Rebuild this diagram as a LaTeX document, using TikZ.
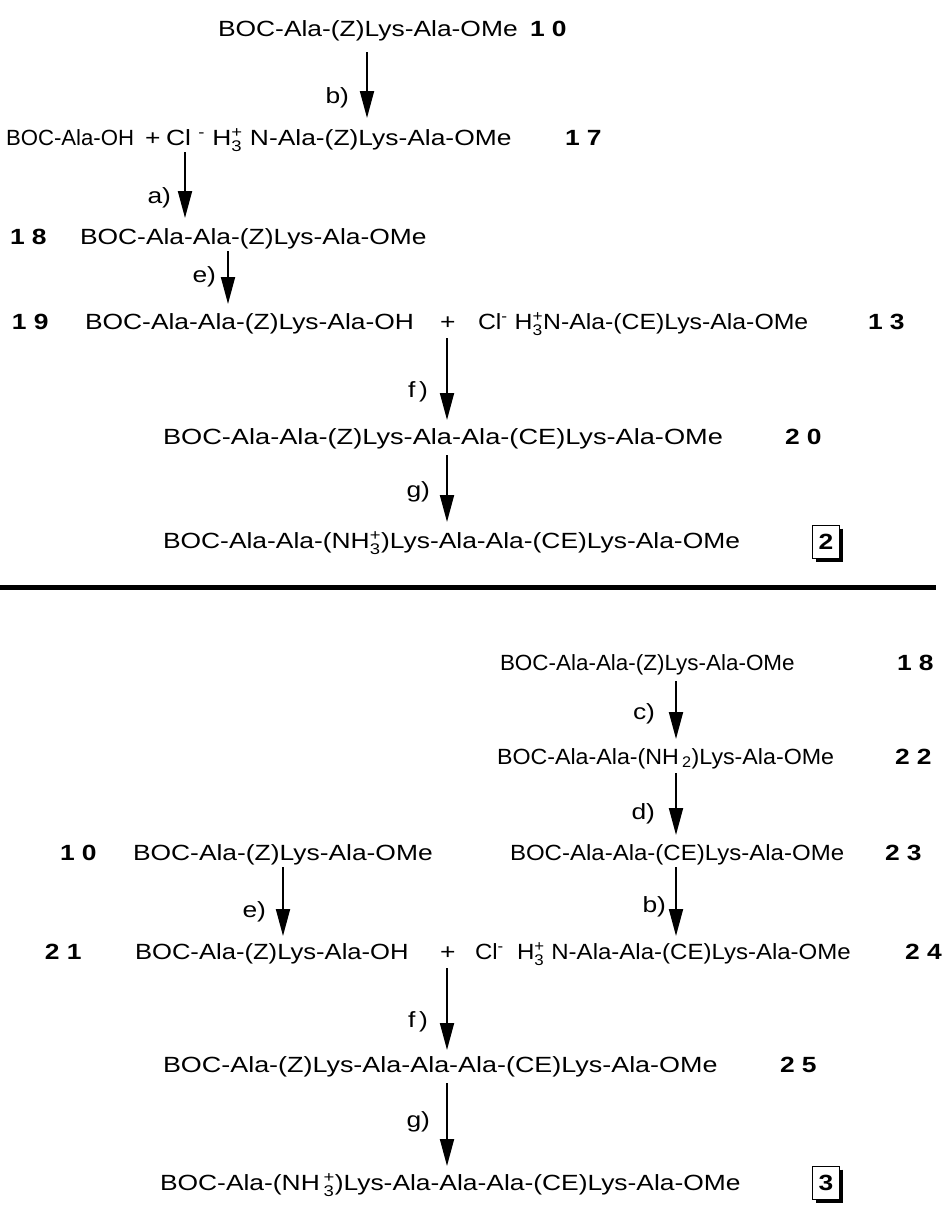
\documentclass[tikz,border=0pt]{standalone}
\usepackage{fontspec}
\setmainfont{Liberation Sans}[FakeStretch=1.2]
\usepackage{amsmath}
\usetikzlibrary{arrows.meta,calc}
\newcommand{\chg}[2]{$^{\text{#1}}_{\text{#2}}$}
\newcommand{\sq}[2]{\scalebox{#1}[1]{#2}}
\tikzset{
  every node/.style={inner sep=0pt, outer sep=0pt, font=\fontsize{22}{26}\selectfont},
  cmpd/.style={anchor=base west},
  num/.style={anchor=base west, font=\fontsize{22}{26}\selectfont\bfseries},
  lbl/.style={anchor=base east},
  rxn/.style={line width=1.9pt, -{Triangle[width=14pt,length=27pt]}},
  cbox/.style={draw, line width=1.4pt, minimum width=27pt, minimum height=33pt, font=\fontsize{22}{26}\selectfont\bfseries},
  shadow/.style={line width=3pt},
  rule/.style={line width=5pt}
}
\begin{document}
\begin{tikzpicture}[x=1pt,y=-1pt]
\useasboundingbox (0,0) rectangle (951,1219);
% ---------- upper scheme ----------
\node[cmpd] (t1) at (218,36) {BOC-Ala-(Z)Lys-Ala-OMe};
\node[num] (n1) at (530,36) {1 0};
\node[cmpd] (t2a) at (6,145) {\sq{0.84}{BOC-Ala-OH}};
\node[cmpd] (p2) at (145,145) {+};
\node[cmpd] (t2b) at (166,145) {Cl \textsuperscript{-} H\chg{+}{3} N-Ala-(Z)Lys-Ala-OMe};
\node[num] (n2) at (565,145) {1 7};
\node[num] (n3) at (10,244) {1 8};
\node[cmpd] (t3) at (80,244) {BOC-Ala-Ala-(Z)Lys-Ala-OMe};
\node[num] (n4) at (12,329) {1 9};
\node[cmpd] (t4a) at (85,329) {BOC-Ala-Ala-(Z)Lys-Ala-OH};
\node[cmpd] (p4) at (440,329) {+};
\node[cmpd] (t4b) at (478,329) {\sq{0.94}{Cl\textsuperscript{-} H\chg{+}{3}N-Ala-(CE)Lys-Ala-OMe}};
\node[num] (n4b) at (868,329) {1 3};
\node[cmpd] (t5) at (163,444) {\sq{1.03}{BOC-Ala-Ala-(Z)Lys-Ala-Ala-(CE)Lys-Ala-OMe}};
\node[num] (n5) at (785,444) {2 0};
\node[cmpd] (t6) at (163,548) {BOC-Ala-Ala-(NH\chg{+}{3})Lys-Ala-Ala-(CE)Lys-Ala-OMe};
\node[cbox] (box2) at (826,542) {2};
\draw[shadow] ($(box2.north east)+(1.5,3)$) -- ($(box2.south east)+(1.5,1.5)$) -- ($(box2.south west)+(3,1.5)$);
% arrows upper
\coordinate (b1s) at (367,52);  \coordinate (b1e) at (367,118);
\draw[rxn] (b1s) -- (b1e);
\node[lbl] (lb1) at (349,103) {b)};
\coordinate (as) at (185,152);  \coordinate (ae) at (185,218);
\draw[rxn] (as) -- (ae);
\node[lbl] (la) at (171,203) {a)};
\coordinate (e1s) at (228,251); \coordinate (e1e) at (228,304);
\draw[rxn] (e1s) -- (e1e);
\node[lbl] (le1) at (216,282) {e)};
\coordinate (f1s) at (447,338); \coordinate (f1e) at (447,420);
\draw[rxn] (f1s) -- (f1e);
\node[lbl] (lf1) at (428,397) {f\,)};
\coordinate (g1s) at (447,455); \coordinate (g1e) at (447,522);
\draw[rxn] (g1s) -- (g1e);
\node[lbl] (lg1) at (430,497) {g)};
% separating rule
\coordinate (rl) at (0,587); \coordinate (rr) at (936,587);
\draw[rule] (rl) -- (rr);
% ---------- lower scheme ----------
\node[cmpd] (t7) at (500,670) {\sq{0.85}{BOC-Ala-Ala-(Z)Lys-Ala-OMe}};
\node[num] (n7) at (897,670) {1 8};
\node[cmpd] (t8) at (497,764) {\sq{0.88}{BOC-Ala-Ala-(NH\,\textsubscript{2})Lys-Ala-OMe}};
\node[num] (n8) at (895,764) {2 2};
\node[num] (n9) at (60,860) {1 0};
\node[cmpd] (t9a) at (133,860) {BOC-Ala-(Z)Lys-Ala-OMe};
\node[cmpd] (t9b) at (510,860) {\sq{0.91}{BOC-Ala-Ala-(CE)Lys-Ala-OMe}};
\node[num] (n9b) at (885,860) {2 3};
\node[num] (n10) at (45,959) {2 1};
\node[cmpd] (t10a) at (135,959) {\sq{0.97}{BOC-Ala-(Z)Lys-Ala-OH}};
\node[cmpd] (p10) at (440,959) {+};
\node[cmpd] (t10b) at (475,959) {\sq{0.91}{Cl\textsuperscript{-}\ \ H\chg{+}{3} N-Ala-Ala-(CE)Lys-Ala-OMe}};
\node[num] (n10b) at (905,959) {2 4};
\node[cmpd] (t11) at (163,1072) {\sq{1.02}{BOC-Ala-(Z)Lys-Ala-Ala-Ala-(CE)Lys-Ala-OMe}};
\node[num] (n11) at (780,1072) {2 5};
\node[cmpd] (t12) at (160,1190) {BOC-Ala-(NH\,\chg{+}{3})Lys-Ala-Ala-Ala-(CE)Lys-Ala-OMe};
\node[cbox] (box3) at (826,1183) {3};
\draw[shadow] ($(box3.north east)+(1.5,3)$) -- ($(box3.south east)+(1.5,1.5)$) -- ($(box3.south west)+(3,1.5)$);
% arrows lower
\coordinate (cs) at (676,681); \coordinate (ce) at (676,739);
\draw[rxn] (cs) -- (ce);
\node[lbl] (lc) at (655,719) {c)};
\coordinate (ds) at (676,773); \coordinate (de) at (676,835);
\draw[rxn] (ds) -- (de);
\node[lbl] (ld) at (655,819) {d)};
\coordinate (e2s) at (283,867); \coordinate (e2e) at (283,936);
\draw[rxn] (e2s) -- (e2e);
\node[lbl] (le2) at (266,917) {e)};
\coordinate (b2s) at (676,867); \coordinate (b2e) at (676,936);
\draw[rxn] (b2s) -- (b2e);
\node[lbl] (lb2) at (666,912) {b)};
\coordinate (f2s) at (447,968); \coordinate (f2e) at (447,1050);
\draw[rxn] (f2s) -- (f2e);
\node[lbl] (lf2) at (428,1027) {f\,)};
\coordinate (g2s) at (447,1083); \coordinate (g2e) at (447,1166);
\draw[rxn] (g2s) -- (g2e);
\node[lbl] (lg2) at (430,1127) {g)};
\end{tikzpicture}
\end{document}
